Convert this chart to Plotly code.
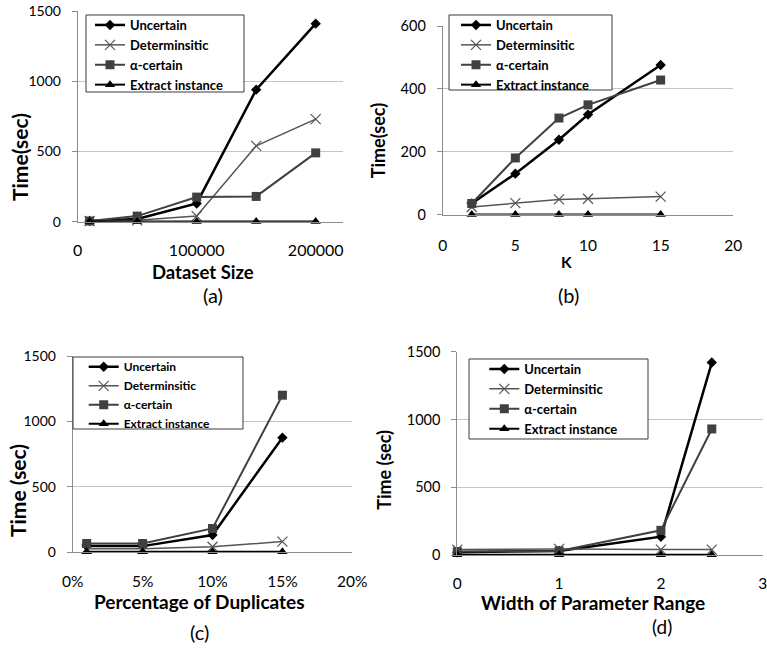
import plotly.graph_objects as go

# ---------------- data ----------------
series_names = ["Uncertain", "Determinsitic", "α-certain", "Extract instance"]

# (a) Dataset Size
a_x = [10000, 50000, 100000, 150000, 200000]
a_uncertain = [5, 20, 130, 940, 1410]
a_determ = [5, 10, 40, 540, 730]
a_alpha = [5, 40, 175, 180, 490]
a_extract = [2, 2, 2, 2, 2]
a_xticks = [0, 100000, 200000]

# (b) K
b_x = [2, 5, 8, 10, 15]
b_uncertain = [35, 130, 238, 318, 476]
b_determ = [24, 36, 48, 50, 57]
b_alpha = [35, 180, 307, 349, 428]
b_extract = [0, 0, 0, 0, 0]

# (c) Percentage of Duplicates
c_x = [0.01, 0.05, 0.10, 0.15]
c_uncertain = [45, 45, 130, 875]
c_determ = [25, 25, 40, 80]
c_alpha = [65, 65, 180, 1200]
c_extract = [2, 2, 2, 2]

# (d) Width of Parameter Range
d_x = [0, 1, 2, 2.5]
d_uncertain = [20, 30, 135, 1420]
d_determ = [40, 45, 40, 40]
d_alpha = [25, 30, 182, 930]
d_extract = [2, 2, 2, 2]

W, H = 767, 654
FONT = "Lato"


def px(x):
    return x / W


def py(y):
    return 1 - y / H


styles = [
    dict(line=dict(color="#000000", width=2.5),
         marker=dict(symbol="diamond", size=8, color="#000000")),
    dict(line=dict(color="#555555", width=1.5),
         marker=dict(symbol="x-thin-open", size=10, color="#555555",
                     line=dict(color="#555555", width=1.2))),
    dict(line=dict(color="#404040", width=2),
         marker=dict(symbol="square", size=9, color="#404040")),
    dict(line=dict(color="#000000", width=2),
         marker=dict(symbol="triangle-up", size=9, color="#000000")),
]

panels = [
    (a_x, [a_uncertain, a_determ, a_alpha, a_extract]),
    (b_x, [b_uncertain, b_determ, b_alpha, b_extract]),
    (c_x, [c_uncertain, c_determ, c_alpha, c_extract]),
    (d_x, [d_uncertain, d_determ, d_alpha, d_extract]),
]

fig = go.Figure()
for p, (xs, ys_list) in enumerate(panels):
    suffix = "" if p == 0 else str(p + 1)
    for name, ys, st in zip(series_names, ys_list, styles):
        fig.add_trace(go.Scatter(
            x=xs, y=ys, name=name, mode="lines+markers",
            line=st["line"], marker=st["marker"],
            xaxis="x" + suffix, yaxis="y" + suffix,
            legend="legend" + suffix, cliponaxis=False,
        ))

GRID = "#C4C4C4"
AXIS = "#8C8C8C"

# plot-area pixel boxes: (left, right, top, bottom)
boxes = [
    (77.7, 342.7, 11.0, 221.7),
    (442.7, 733.3, 26.0, 214.5),
    (72.7, 352.3, 356.0, 552.0),
    (457.3, 762.7, 351.7, 555.0),
]
xranges = [[0, 222700], [0, 20], [0, 0.2], [0, 3]]
yranges = [[0, 1500], [0, 600], [0, 1500], [0, 1500]]
ydticks = [500, 200, 500, 500]
ytickfs = [14, 14.5, 14, 14.5]
xtickfs = [16, 15.5, 15.5, 15.5]
xstand = [14, 17, 15, 14]

layout = dict(
    width=W, height=H, margin=dict(l=0, r=0, t=0, b=0, pad=0, autoexpand=False),
    autosize=False,
    paper_bgcolor="white", plot_bgcolor="white",
    font=dict(family=FONT, color="#000000"),
    showlegend=True,
)

for p in range(4):
    suffix = "" if p == 0 else str(p + 1)
    l, r, t, b = boxes[p]
    xa = dict(
        domain=[px(l), px(r)], range=xranges[p], anchor="y" + suffix,
        showgrid=False, zeroline=False, showline=True, linecolor=AXIS,
        linewidth=1, ticks="", tickfont=dict(family=FONT, size=xtickfs[p]),
        ticklabelstandoff=xstand[p], automargin=False,
        ticklabeloverflow="allow",
    )
    if p == 0:
        xa.update(tickmode="array", tickvals=a_xticks, ticktext=[str(v) for v in a_xticks])
    elif p == 1:
        xa.update(dtick=5, tick0=0)
    elif p == 2:
        xa.update(dtick=0.05, tick0=0, tickformat=".0%")
    else:
        xa.update(dtick=1, tick0=0)
    ya = dict(
        domain=[py(b), py(t)], range=yranges[p], anchor="x" + suffix,
        dtick=ydticks[p], tick0=0, showgrid=True, gridcolor=GRID, gridwidth=1,
        zeroline=False, showline=True, linecolor=AXIS, linewidth=1,
        ticks="outside", ticklen=5, tickcolor=AXIS, automargin=False,
        tickfont=dict(family=FONT, size=ytickfs[p]), ticklabelstandoff=8,
        ticklabeloverflow="allow",
    )
    layout["xaxis" + suffix] = xa
    layout["yaxis" + suffix] = ya

# legend boxes (px): left, top, right, bottom ; text start x ; first row y ; font size
leg = [
    ((86, 15, 244, 92), 129, 25, 13),
    ((449, 15, 612, 90), 495, 25, 13),
    ((73, 357, 243, 429), 122.7, 367.3, 12),
    ((469, 359, 648, 439), 523.3, 369, 13),
]
shapes = []
for p, ((l, t, r, b), tx, ty, fs) in enumerate(leg):
    suffix = "" if p == 0 else str(p + 1)
    shapes.append(dict(type="rect", xref="paper", yref="paper",
                       x0=px(l), x1=px(r), y0=py(b), y1=py(t),
                       line=dict(color="#3a3a3a", width=1), fillcolor="white",
                       layer="above"))
    layout["legend" + suffix] = dict(
        x=px(tx - 39), y=py(ty - 15), xanchor="left", yanchor="top",
        bgcolor="rgba(0,0,0,0)", borderwidth=0, itemwidth=30,
        font=dict(family=FONT, size=fs, color="#000000", weight="bold"),
        tracegroupgap=0,
    )
layout["shapes"] = shapes

# text annotations: (text, x, y, size, bold, angle)
texts = [
    ("Dataset Size", 203, 271.5, 18.5, True, 0),
    ("(a)", 213, 295, 20, False, 0),
    ("K", 566.7, 261.7, 15.5, True, 0),
    ("(b)", 568, 295, 20, False, 0),
    ("Percentage of Duplicates", 199, 601.5, 19, True, 0),
    ("(c)", 199, 631.7, 20, False, 0),
    ("Width of Parameter Range", 592.5, 602, 19, True, 0),
    ("(d)", 662, 626.7, 19, False, 0),
    ("Time(sec)", 20, 157, 21, True, -90),
    ("Time(sec)", 378.3, 141, 18, True, -90),
    ("Time (sec)", 17, 491, 21, True, -90),
    ("Time (sec)", 383.3, 469.5, 18, True, -90),
]
annotations = []
for txt, x, y, s, bold, ang in texts:
    annotations.append(dict(
        text=txt, x=px(x), y=py(y), xref="paper", yref="paper",
        xanchor="center", yanchor="middle", showarrow=False, textangle=ang,
        font=dict(family=FONT, size=s, color="#000000",
                  weight="bold" if bold else "normal"),
    ))
layout["annotations"] = annotations

fig.update_layout(**layout)
fig.write_html(
    "out.html",
    config={"displayModeBar": False},
    post_script="document.body.style.margin='0';document.body.style.overflow='hidden';",
)
